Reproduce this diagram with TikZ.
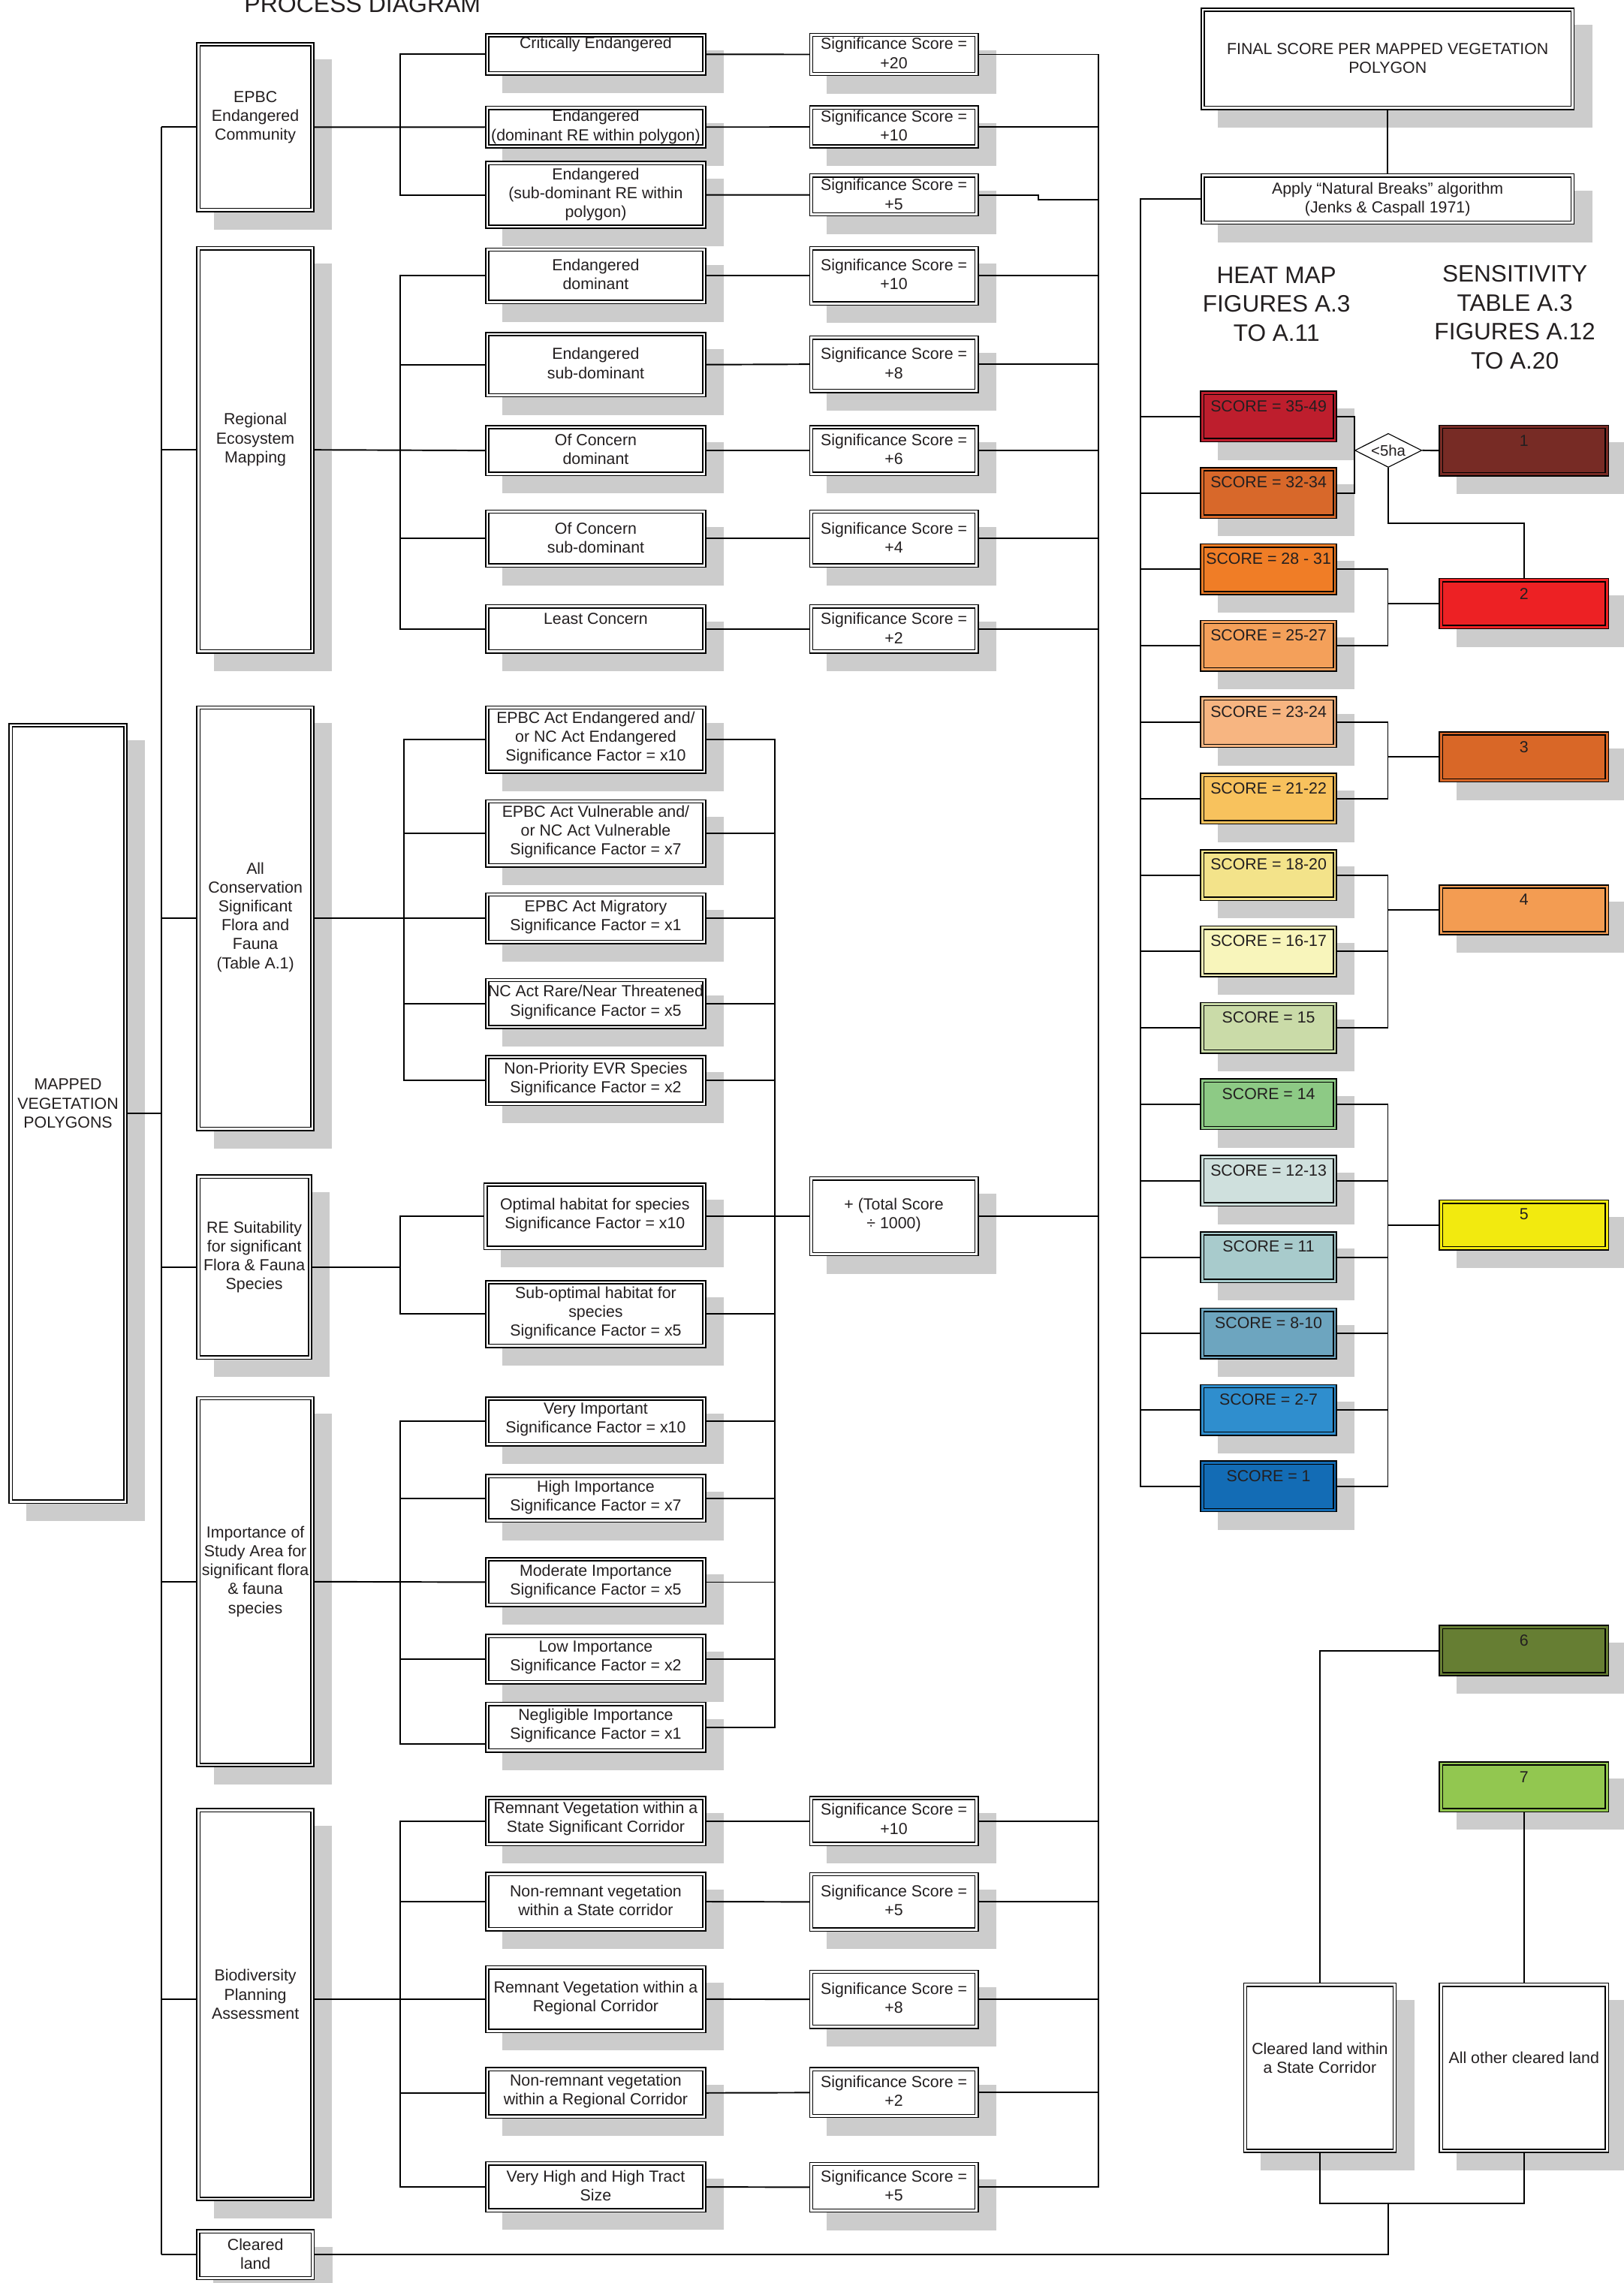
\documentclass[tikz,border=0pt]{standalone}
\usepackage{fontspec}
\setmainfont{Liberation Sans}
\usetikzlibrary{shapes.geometric}
\pgfdeclarelayer{shadow}
\pgfdeclarelayer{lines}
\pgfsetlayers{shadow,lines,main}
\definecolor{shd}{HTML}{CCCCCC}
\definecolor{ink}{HTML}{231F20}
\definecolor{q0}{HTML}{BE1E2D}
\definecolor{q1}{HTML}{D8682A}
\definecolor{q2}{HTML}{F07D26}
\definecolor{q3}{HTML}{F4A05A}
\definecolor{q4}{HTML}{F7B581}
\definecolor{q5}{HTML}{F8C25D}
\definecolor{q6}{HTML}{F3E38A}
\definecolor{q7}{HTML}{F8F5BB}
\definecolor{q8}{HTML}{CADBA8}
\definecolor{q9}{HTML}{8DCA85}
\definecolor{q10}{HTML}{CFE0DD}
\definecolor{q11}{HTML}{A8CBCC}
\definecolor{q12}{HTML}{6DA5BF}
\definecolor{q13}{HTML}{2F8ECE}
\definecolor{q14}{HTML}{136CB5}
\definecolor{nA}{HTML}{772B25}
\definecolor{nB}{HTML}{ED2124}
\definecolor{nC}{HTML}{D96727}
\definecolor{nD}{HTML}{F39C52}
\definecolor{nE}{HTML}{F2EA0F}
\definecolor{nF}{HTML}{667E33}
\definecolor{nG}{HTML}{92C750}
\tikzset{
  dblbox/.style={rectangle, draw=black, line width=0.8pt, double distance=1.4pt, inner sep=0pt, outer sep=0pt},
  lbl/.style={align=center, inner sep=0pt, text=ink, font=\fontsize{11}{13}\selectfont},
  conn/.style={draw=black, line width=1pt},
  hdr/.style={align=center, inner sep=0pt, text=ink, font=\fontsize{16.3}{20}\selectfont},
}
\newcommand{\dbox}[8][white]{%
  \begin{pgfonlayer}{shadow}
    \fill[shd] (#3+12,#4+12) rectangle (#5+12,#6+12);
  \end{pgfonlayer}
  \node[dblbox, fill=#1, double=#1, minimum width={(#5-#3-3)*1pt}, minimum height={(#6-#4-3)*1pt}] (#2) at ({(#3+#5)/2},{(#4+#6)/2}) {};
  \node[lbl] (#2t) at ({(#3+#5)/2},#7) {#8};
}
\begin{document}
\begin{tikzpicture}[x=1pt,y=-1pt]
\useasboundingbox (0,0) rectangle (1115,1568.3);
\node[anchor=base, inner sep=0pt, text=ink, font=\fontsize{16.5}{20}\selectfont] (title) at (249,8.3) {PROCESS DIAGRAM};

% left column
\dbox{map}{5.8}{496.7}{87.6}{1033}{758}{MAPPED\\VEGETATION\\POLYGONS}
\dbox{epbc}{134.8}{28.9}{216}{145.8}{80.5}{EPBC\\Endangered\\Community}
\dbox{remap}{134.8}{169}{216}{449}{302}{Regional\\Ecosystem\\Mapping}
\dbox{cons}{134.8}{484.6}{216}{777}{630}{All\\Conservation\\Significant\\Flora and\\Fauna\\(Table A.1)}
\dbox{ress}{134.8}{806.7}{214.5}{934}{863.5}{RE Suitability\\for significant\\Flora \& Fauna\\Species}
\dbox{imp}{134.8}{959}{216}{1214}{1079.5}{Importance of\\Study Area for\\significant flora\\\& fauna\\species}
\dbox{bpa}{134.8}{1242}{216}{1512}{1370}{Biodiversity\\Planning\\Assessment}
\dbox{clr}{134.6}{1531.3}{216.3}{1566.4}{1548.5}{Cleared\\land}

% column 3
\dbox{crit}{333.2}{22.7}{485.2}{51.9}{30.6}{Critically Endangered}
\dbox{en1}{333.2}{72.6}{485.2}{102}{87.1}{Endangered\\(dominant RE within polygon)}
\dbox{en2}{333.2}{110.5}{485.2}{157.3}{133.7}{Endangered\\(sub-dominant RE within\\polygon)}
\dbox{red}{333.2}{170}{485.2}{209}{188.5}{Endangered\\dominant}
\dbox{res}{333.2}{228}{485.2}{273}{249.5}{Endangered\\sub-dominant}
\dbox{rcd}{333.2}{292}{485.2}{327}{308.5}{Of Concern\\dominant}
\dbox{rcs}{333.2}{350}{485.2}{390}{369.5}{Of Concern\\sub-dominant}
\dbox{rlc}{333.2}{415}{485.2}{449}{425}{Least Concern}
\dbox{k1}{333.2}{484.6}{485.2}{531.6}{507}{EPBC Act Endangered and/\\or NC Act Endangered\\Significance Factor = x10}
\dbox{k2}{333.2}{549}{485.2}{596}{571.5}{EPBC Act Vulnerable and/\\or NC Act Vulnerable\\Significance Factor = x7}
\dbox{k3}{333.2}{613}{485.2}{648.6}{630}{EPBC Act Migratory\\Significance Factor = x1}
\dbox{k4}{333.2}{671.8}{485.2}{707}{688.5}{NC Act Rare/Near Threatened\\Significance Factor = x5}
\dbox{k5}{333.2}{724.6}{485.2}{759.7}{741.5}{Non-Priority EVR Species\\Significance Factor = x2}
\dbox{o1}{332}{812.3}{485.2}{858.7}{834.5}{Optimal habitat for species\\Significance Factor = x10}
\dbox{o2}{333.2}{879.4}{485.2}{926}{902}{Sub-optimal habitat for\\species\\Significance Factor = x5}
\dbox{i1}{333.2}{959.3}{485.2}{993.6}{975}{Very Important\\Significance Factor = x10}
\dbox{i2}{333.2}{1012.5}{485.2}{1046}{1028.5}{High Importance\\Significance Factor = x7}
\dbox{i3}{333.2}{1069.7}{485.2}{1104}{1086.5}{Moderate Importance\\Significance Factor = x5}
\dbox{i4}{333.2}{1122.4}{485.2}{1157}{1138.5}{Low Importance\\Significance Factor = x2}
\dbox{i5}{333.2}{1169}{485.2}{1204}{1185.5}{Negligible Importance\\Significance Factor = x1}
\dbox{b1}{333.2}{1233.6}{485.2}{1268.2}{1249.5}{Remnant Vegetation within a\\State Significant Corridor}
\dbox{b2}{333.2}{1285.8}{485.2}{1326.8}{1305.5}{Non-remnant vegetation\\within a State corridor}
\dbox{b3}{333.2}{1350}{485.2}{1396.6}{1372.5}{Remnant Vegetation within a\\Regional Corridor}
\dbox{b4}{333.2}{1420}{485.2}{1455.4}{1436.5}{Non-remnant vegetation\\within a Regional Corridor}
\dbox{b5}{333.2}{1484.7}{485.2}{1519.9}{1501.5}{Very High and High Tract\\Size}

% column 4
\dbox{sa1}{555.7}{22.5}{672.3}{52.3}{36.5}{Significance Score =\\+20}
\dbox{sa2}{555.7}{72.4}{672.3}{102.1}{86.5}{Significance Score =\\+10}
\dbox{sa3}{555.7}{119}{672.3}{148.7}{133.5}{Significance Score =\\+5}
\dbox{sa4}{555.7}{169}{672.3}{210}{188.5}{Significance Score =\\+10}
\dbox{sa5}{555.7}{230.4}{672.3}{270}{249.5}{Significance Score =\\+8}
\dbox{sa6}{555.7}{292}{672.3}{327}{308.5}{Significance Score =\\+6}
\dbox{sa7}{555.7}{350}{672.3}{390}{369.5}{Significance Score =\\+4}
\dbox{sa8}{555.7}{415}{672.3}{449}{431.5}{Significance Score =\\+2}
\dbox{tot}{555.7}{808}{672.3}{863}{834.5}{+ (Total Score\\÷ 1000)}
\dbox{sb1}{555.7}{1233.6}{672.3}{1268.2}{1249.5}{Significance Score =\\+10}
\dbox{sb2}{555.7}{1286}{672.3}{1327}{1305.5}{Significance Score =\\+5}
\dbox{sb3}{555.7}{1353}{672.3}{1393.8}{1372.5}{Significance Score =\\+8}
\dbox{sb4}{555.7}{1420}{672.3}{1455}{1436.5}{Significance Score =\\+2}
\dbox{sb5}{555.7}{1485}{672.3}{1520}{1501.5}{Significance Score =\\+5}

% right section
\dbox{final}{824.6}{5.2}{1081.7}{75.6}{40.2}{FINAL SCORE PER MAPPED VEGETATION\\POLYGON}
\dbox{apply}{824.6}{119}{1081.7}{154.4}{137}{Apply “Natural Breaks” algorithm\\(Jenks \& Caspall 1971)}
\node[hdr] (heat) at (876.8,208.9) {HEAT MAP\\FIGURES A.3\\TO A.11};
\node[hdr] (sens) at (1040.5,218) {SENSITIVITY\\TABLE A.3\\FIGURES A.12\\TO A.20};

\foreach \i/\col/\txt in {0/q0/{SCORE = 35-49},1/q1/{SCORE = 32-34},2/q2/{SCORE = 28 - 31},3/q3/{SCORE = 25-27},4/q4/{SCORE = 23-24},5/q5/{SCORE = 21-22},6/q6/{SCORE = 18-20},7/q7/{SCORE = 16-17},8/q8/{SCORE = 15},9/q9/{SCORE = 14},10/q10/{SCORE = 12-13},11/q11/{SCORE = 11},12/q12/{SCORE = 8-10},13/q13/{SCORE = 2-7},14/q14/{SCORE = 1}}{
  \pgfmathsetmacro\ty{268.3+52.5*\i}
  \pgfmathsetmacro\by{\ty+35.6}
  \pgfmathsetmacro\tyt{\ty+10.6}
  \dbox[\col]{sc\i}{824.3}{\ty}{918.4}{\by}{\tyt}{\txt}
}

\dbox[nA]{n1}{988.3}{291.7}{1105.3}{327.3}{302.6}{1}
\dbox[nB]{n2}{988.3}{397}{1105.3}{432.3}{408}{2}
\dbox[nC]{n3}{988.3}{502.4}{1105.3}{537.6}{513}{3}
\dbox[nD]{n4}{988.3}{607.5}{1105.3}{642.6}{618}{4}
\dbox[nE]{n5}{988.3}{824}{1105.3}{859}{834.3}{5}
\dbox[nF]{n6}{988.3}{1116.2}{1105.3}{1151.6}{1126.9}{6}
\dbox[nG]{n7}{988.3}{1209.9}{1105.3}{1245}{1220.6}{7}
\dbox{cs}{853.8}{1361.9}{959.4}{1479}{1413.7}{Cleared land within\\a State Corridor}
\dbox{ao}{988.3}{1361.9}{1105.3}{1479}{1413.5}{All other cleared land}

\node[diamond, aspect=2, draw=black, line width=0.6pt, fill=white, minimum width=46pt, minimum height=23.3pt, inner sep=0pt, text=ink, font=\fontsize{10.5}{12}\selectfont] (dia) at (953.6,309.4) {<5ha};

\begin{pgfonlayer}{lines}
\coordinate (trunk) at (110.9,0);
\coordinate (busA) at (274.7,0);
\coordinate (busC) at (277.5,0);
\coordinate (busD) at (532.2,0);
\coordinate (busR) at (754.4,0);
\coordinate (busH) at (783.4,0);
\coordinate (busJ) at (953.3,0);
\coordinate (y1198) at (0,1198);
\coordinate (jog) at (713.4,137);
\coordinate (jc) at (953.4,1513.7);

% trunk
\draw[conn] (map.east) -- (map.east -| trunk);
\draw[conn] (trunk |- epbc.west) -- (trunk |- clr.west);
\draw[conn] (trunk |- epbc.west) -- (epbc.west);
\draw[conn] (trunk |- remap.west) -- (remap.west);
\draw[conn] (trunk |- cons.west) -- (cons.west);
\draw[conn] (trunk |- ress.west) -- (ress.west);
\draw[conn] (trunk |- imp.west) -- (imp.west);
\draw[conn] (trunk |- b3.west) -- (bpa.west |- b3.west);
\draw[conn] (trunk |- clr.west) -- (clr.west);

% EPBC group
\draw[conn] (epbc.east) -- (en1.west);
\draw[conn] (crit.west) -| (busA |- en2.west) -- (en2.west);
% RE group
\draw[conn] (remap.east) -- (rcd.west);
\draw[conn] (red.west) -| (busA |- rlc.west) -- (rlc.west);
\draw[conn] (busA |- res.west) -- (res.west);
\draw[conn] (busA |- rcs.west) -- (rcs.west);
% conservation group
\draw[conn] (cons.east) -- (k3.west);
\draw[conn] (k1.west) -| (busC |- k5.west) -- (k5.west);
\draw[conn] (busC |- k2.west) -- (k2.west);
\draw[conn] (busC |- k4.west) -- (k4.west);
% RE suitability
\draw[conn] (ress.east) -- (ress.east -| busA);
\draw[conn] (o1.west) -| (busA |- o2.west) -- (o2.west);
% importance
\draw[conn] (imp.east) -- (i3.west);
\draw[conn] (i1.west) -| (busA |- y1198) -- (i5.west |- y1198);
\draw[conn] (busA |- i2.west) -- (i2.west);
\draw[conn] (busA |- i4.west) -- (i4.west);
% BPA
\draw[conn] (bpa.east |- b3.west) -- (b3.west);
\draw[conn] (b1.west) -| (busA |- b5.west) -- (b5.west);
\draw[conn] (busA |- b2.west) -- (b2.west);
\draw[conn] (busA |- b4.west) -- (b4.west);

% column 3 to 4
\draw[conn] (crit.east) -- (sa1.west);
\draw[conn] (en1.east) -- (sa2.west);
\draw[conn] (en2.east) -- (sa3.west);
\draw[conn] (red.east) -- (sa4.west);
\draw[conn] (res.east) -- (sa5.west);
\draw[conn] (rcd.east) -- (sa6.west);
\draw[conn] (rcs.east) -- (sa7.west);
\draw[conn] (rlc.east) -- (sa8.west);
\draw[conn] (b1.east) -- (sb1.west);
\draw[conn] (b2.east) -- (sb2.west);
\draw[conn] (b3.east) -- (sb3.west);
\draw[conn] (b4.east) -- (sb4.west);
\draw[conn] (b5.east) -- (sb5.west);

% factor bus
\draw[conn] (k1.east) -| (busD |- i5.east) -- (i5.east);
\foreach \n in {k2,k3,k4,k5,o1,o2,i1,i2,i3,i4}{\draw[conn] (\n.east) -- (\n.east -| busD);}
\draw[conn] (busD |- tot.west) -- (tot.west);

% right bus
\draw[conn] (sa1.east) -| (busR |- sb5.east) -- (sb5.east);
\foreach \n in {sa2,sa4,sa5,sa6,sa7,sa8,tot,sb1,sb2,sb3,sb4}{\draw[conn] (\n.east) -- (\n.east -| busR);}
\draw[conn] (sa3.east) -| (jog) -- (jog -| busR);

% right section
\draw[conn] (final.south) -- (apply.north);
\draw[conn] (apply.west) -| (busH |- sc14.west) -- (sc14.west);
\foreach \i in {0,...,13}{\draw[conn] (busH |- sc\i.west) -- (sc\i.west);}

\draw[conn] (sc0.east) -| (dia.west |- sc1.east) -- (sc1.east);
\draw[conn] (dia.east) -- (n1.west);
\draw[conn] (dia.south) -- ++(0,38) -| (n2.north);
\draw[conn] (sc2.east) -| (busJ |- sc3.east) -- (sc3.east);
\draw[conn] (busJ |- n2.west) -- (n2.west);
\draw[conn] (sc4.east) -| (busJ |- sc5.east) -- (sc5.east);
\draw[conn] (busJ |- n3.west) -- (n3.west);
\draw[conn] (sc6.east) -| (busJ |- sc8.east) -- (sc8.east);
\draw[conn] (sc7.east) -- (sc7.east -| busJ);
\draw[conn] (busJ |- n4.west) -- (n4.west);
\draw[conn] (sc9.east) -| (busJ |- sc14.east) -- (sc14.east);
\foreach \i in {10,...,13}{\draw[conn] (sc\i.east) -- (sc\i.east -| busJ);}
\draw[conn] (busJ |- n5.west) -- (n5.west);

% cleared land
\draw[conn] (n6.west) -| (cs.north);
\draw[conn] (n7.south) -- (ao.north);
\draw[conn] (cs.south) |- (jc) -| (ao.south);
\draw[conn] (clr.east) -| (jc);
\end{pgfonlayer}
\end{tikzpicture}
\end{document}
